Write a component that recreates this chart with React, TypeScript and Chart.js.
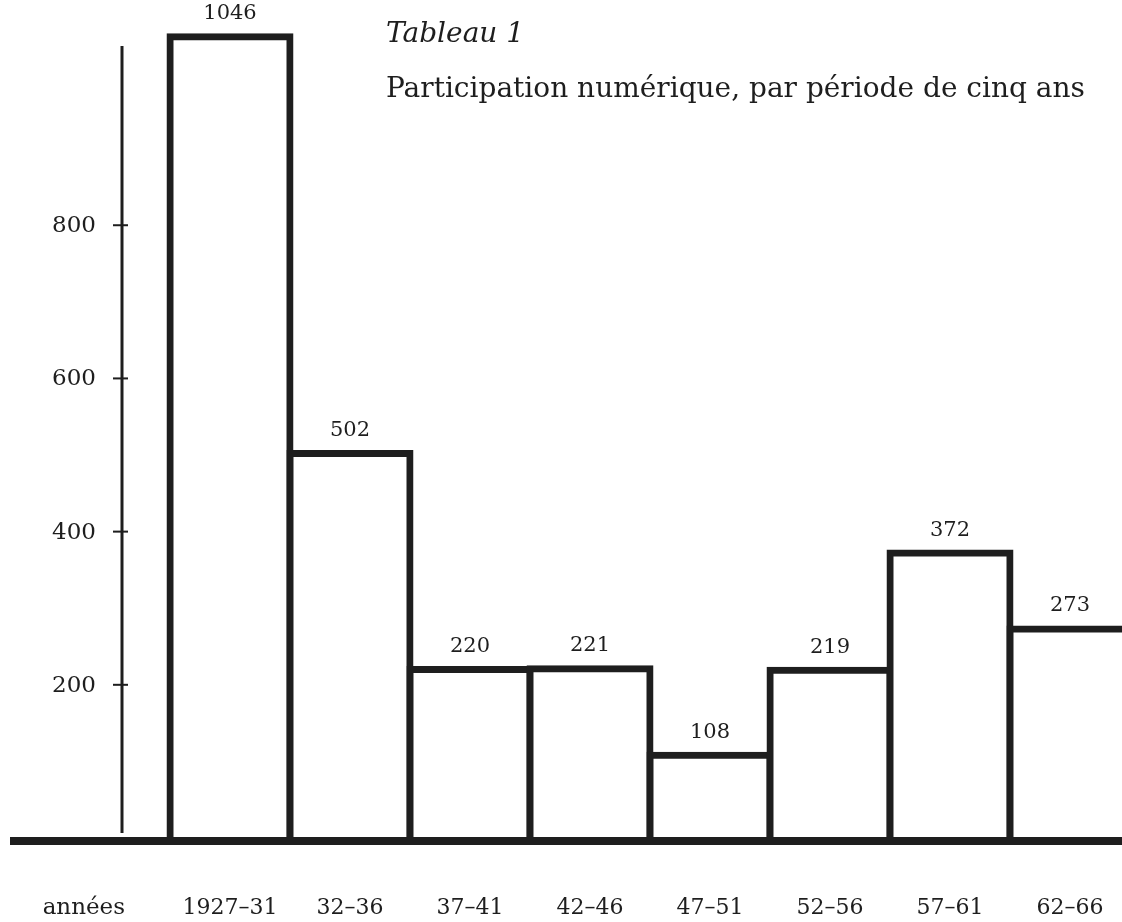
import React, { useEffect, useRef } from "react";
import { Chart, registerables } from "chart.js";

Chart.register(...registerables);

// ---- data ----
const periods = ["1927–31", "32–36", "37–41", "42–46", "47–51", "52–56", "57–61", "62–66"];
const participants = [1046, 502, 220, 221, 108, 219, 372, 273];
const yTicks = [200, 400, 600, 800];
const axisWord = "années";
const tableTitle = "Tableau 1";
const chartTitle = "Participation numérique, par période de cinq ans";

const SERIF = '"DejaVu Serif", serif';
const INK = "#1e1e1e";
const Y_MAX = 1081;
const AXIS_TOP_VALUE = 1034;

const decorPlugin = {
  id: "histoDecor",
  afterDatasetsDraw(chart: any) {
    const { ctx, chartArea, scales } = chart;
    const xs = scales.x;
    const ys = scales.y;
    const zero = ys.getPixelForValue(0);
    const axisX = chartArea.left - 48;
    ctx.save();
    ctx.fillStyle = INK;

    // baseline
    ctx.fillRect(10, zero - 1, chart.width - 10, 8);

    // vertical axis
    const top = ys.getPixelForValue(AXIS_TOP_VALUE);
    ctx.fillRect(axisX - 1.5, top, 3, zero - 5 - top);

    // ticks + labels
    ctx.font = `23px ${SERIF}`;
    ctx.textAlign = "right";
    ctx.textBaseline = "middle";
    yTicks.forEach((t) => {
      const py = ys.getPixelForValue(t);
      ctx.fillRect(axisX - 9, py - 1, 15, 2);
      ctx.fillText(String(t), axisX - 26, py + 1);
    });

    // value labels
    const meta = chart.getDatasetMeta(0);
    ctx.font = `21px ${SERIF}`;
    ctx.textAlign = "center";
    ctx.textBaseline = "alphabetic";
    meta.data.forEach((el: any, i: number) => {
      ctx.fillText(String(participants[i]), el.x, el.y - 17.5);
    });

    // category labels
    ctx.font = `22px ${SERIF}`;
    const labelY = zero + 76;
    periods.forEach((p, i) => {
      ctx.fillText(p, xs.getPixelForValue(i), labelY);
    });
    ctx.textAlign = "right";
    ctx.font = `23px ${SERIF}`;
    ctx.fillText(axisWord, axisX + 3, labelY);

    // titles
    ctx.textAlign = "left";
    ctx.font = `italic 28px ${SERIF}`;
    ctx.fillText(tableTitle, 386, 42);
    ctx.font = `28px ${SERIF}`;
    ctx.fillText(chartTitle, 386, 97);

    ctx.restore();
  },
};

export default function App() {
  const ref = useRef<HTMLCanvasElement | null>(null);

  useEffect(() => {
    if (!ref.current) return;
    const chart = new Chart(ref.current, {
      type: "bar",
      data: {
        labels: periods,
        datasets: [
          {
            data: participants,
            backgroundColor: "#ffffff",
            borderColor: INK,
            borderWidth: 7,
            borderSkipped: "start",
            inflateAmount: 3.5,
            barPercentage: 1,
            categoryPercentage: 1,
            clip: false,
          } as any,
        ],
      },
      options: {
        responsive: false,
        animation: false,
        devicePixelRatio: 1,
        layout: { padding: { left: 170, right: 2, top: 10, bottom: 84 } },
        plugins: { legend: { display: false }, tooltip: { enabled: false } },
        scales: {
          x: { display: false, grid: { display: false } },
          y: { display: false, min: 0, max: Y_MAX, grid: { display: false } },
        },
      },
      plugins: [decorPlugin],
    });
    return () => chart.destroy();
  }, []);

  return (
    <div
      style={{
        position: "absolute",
        left: 0,
        top: 0,
        width: 1122,
        height: 922,
        overflow: "hidden",
        background: "#ffffff",
      }}
    >
      <canvas ref={ref} width={1132} height={922} style={{ display: "block" }} />
    </div>
  );
}
